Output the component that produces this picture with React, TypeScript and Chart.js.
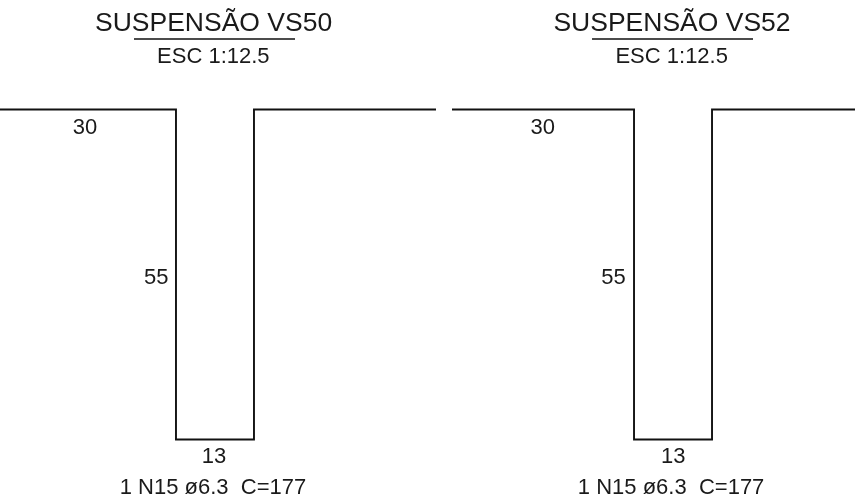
import React, { useEffect, useRef } from "react";
import { Chart, registerables } from "chart.js";

Chart.register(...registerables);

// All lengths in cm of the bar drawing (1 cm = 6 px at this scale)
const barAx = [-2, 29.33, 29.33, 42.33, 42.33, 72.67];
const barBx = [75.33, 105.67, 105.67, 118.67, 118.67, 145];
const barY = [18.25, 18.25, 73.25, 73.25, 18.25, 18.25];
const ruleAx = [22.33, 49.17];
const ruleBx = [98.67, 125.5];
const ruleY = [6.5, 6.5];

const titles = ["SUSPENSÃO VS50", "SUSPENSÃO VS52"];
const titleX = [35.6, 112];
const titleY = 3.95;
const scales_ = ["ESC 1:12.5", "ESC 1:12.5"];
const scaleX = [35.55, 111.95];
const scaleY = 9.55;
const leg30 = ["30", "30"];
const leg30X = [14.15, 90.45];
const leg30Y = 21.3;
const leg55 = ["55", "55"];
const leg55X = [26.05, 102.25];
const leg55Y = 46.25;
const leg13 = ["13", "13"];
const leg13X = [35.65, 112.2];
const leg13Y = 76.2;
const notes = ["1 N15 ø6.3  C=177", "1 N15 ø6.3  C=177"];
const noteX = [35.5, 111.85];
const noteY = 81.3;

const INK = "#1a1a1a";
const FONT = '"Liberation Sans", Arial, sans-serif';

const textPlugin = {
  id: "drawingText",
  afterDatasetsDraw(chart: any) {
    const { ctx, scales } = chart;
    const put = (t: string[], xs: number[], y: number, size: number) => {
      ctx.save();
      ctx.font = `${size}px ${FONT}`;
      ctx.fillStyle = INK;
      ctx.textAlign = "center";
      ctx.textBaseline = "middle";
      t.forEach((s, i) => ctx.fillText(s, scales.x.getPixelForValue(xs[i]), scales.y.getPixelForValue(y)));
      ctx.restore();
    };
    put(titles, titleX, titleY, 26.5);
    put(scales_, scaleX, scaleY, 22);
    put(leg30, leg30X, leg30Y, 22);
    put(leg55, leg55X, leg55Y, 22);
    put(leg13, leg13X, leg13Y, 22);
    put(notes, noteX, noteY, 22);
  },
};

const line = (xs: number[], ys: number[], label: string, w: number) => ({
  label,
  data: xs.map((x, i) => ({ x, y: ys[i] })),
  showLine: true,
  borderColor: "#111",
  borderWidth: w,
  pointRadius: 0,
  tension: 0,
  fill: false,
  borderJoinStyle: "miter" as const,
});

export default function App() {
  const ref = useRef<HTMLCanvasElement>(null);
  useEffect(() => {
    const chart = new Chart(ref.current!, {
      type: "scatter",
      data: {
        datasets: [
          line(barAx, barY, "VS50", 1.9),
          line(barBx, barY, "VS52", 1.9),
          line(ruleAx, ruleY, "rule VS50", 1.3),
          line(ruleBx, ruleY, "rule VS52", 1.3),
        ],
      },
      options: {
        animation: false,
        responsive: false,
        layout: { padding: 0 },
        plugins: { legend: { display: false }, tooltip: { enabled: false }, title: { display: false } },
        scales: {
          x: { type: "linear", min: 0, max: 142.5, display: false },
          y: { type: "linear", min: 0, max: 82.83, reverse: true, display: false },
        },
      },
      plugins: [textPlugin],
    });
    return () => chart.destroy();
  }, []);
  return (
    <div style={{ position: "fixed", inset: 0, background: "#fff" }}>
      <canvas ref={ref} width={855} height={497} style={{ display: "block" }} />
    </div>
  );
}
